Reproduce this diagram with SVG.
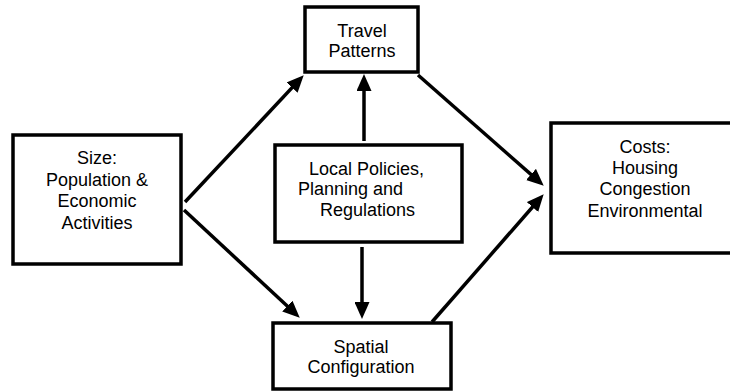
<svg xmlns="http://www.w3.org/2000/svg" width="730" height="391" viewBox="0 0 730 391">
<style>
.box{fill:#fff;stroke:#000;stroke-width:3.5}
.t{font-family:"Liberation Sans",Arial,sans-serif;font-size:18px;fill:#000;text-anchor:middle}
.ts{text-anchor:start}
.c{stroke:#000;stroke-width:3.5;fill:none;marker-end:url(#ah)}
</style>
<defs>
<marker id="ah" markerUnits="userSpaceOnUse" markerWidth="17" markerHeight="15" refX="12" refY="7.5" orient="auto">
<path d="M0,0 L17,7.5 L0,15 z" fill="#000"/>
</marker>
</defs>
<rect width="730" height="391" fill="#fff"/>
<g id="connectors">
<line class="c" x1="185" y1="202" x2="300.3" y2="78.9"/>
<line class="c" x1="184" y1="210" x2="296.1" y2="314.3"/>
<line class="c" x1="364" y1="141" x2="364" y2="79"/>
<line class="c" x1="362" y1="247" x2="362" y2="314"/>
<line class="c" x1="418" y1="75" x2="540" y2="182.4"/>
<line class="c" x1="432" y1="322" x2="540.4" y2="198"/>
</g>
<g id="travel">
<rect class="box" x="305" y="7" width="113" height="65"/>
<text class="t" x="362" y="37">Travel</text>
<text class="t" x="362" y="57">Patterns</text>
</g>
<g id="size">
<rect class="box" x="13" y="135" width="168" height="129"/>
<text class="t" x="97" y="164">Size:</text>
<text class="t" x="97" y="186">Population &amp;</text>
<text class="t" x="97" y="207">Economic</text>
<text class="t" x="97" y="229">Activities</text>
</g>
<g id="local">
<rect class="box" x="275" y="145" width="187" height="97"/>
<text class="t ts" x="309" y="175">Local Policies,</text>
<text class="t ts" x="298" y="195">Planning and</text>
<text class="t ts" x="320" y="216">Regulations</text>
</g>
<g id="costs">
<rect class="box" x="551" y="123" width="190" height="130"/>
<text class="t" x="645" y="153">Costs:</text>
<text class="t" x="645" y="174">Housing</text>
<text class="t" x="645" y="195">Congestion</text>
<text class="t" x="645" y="217">Environmental</text>
</g>
<g id="spatial">
<rect class="box" x="273" y="323" width="178" height="66"/>
<text class="t" x="361" y="353">Spatial</text>
<text class="t" x="361" y="373">Configuration</text>
</g>
</svg>
